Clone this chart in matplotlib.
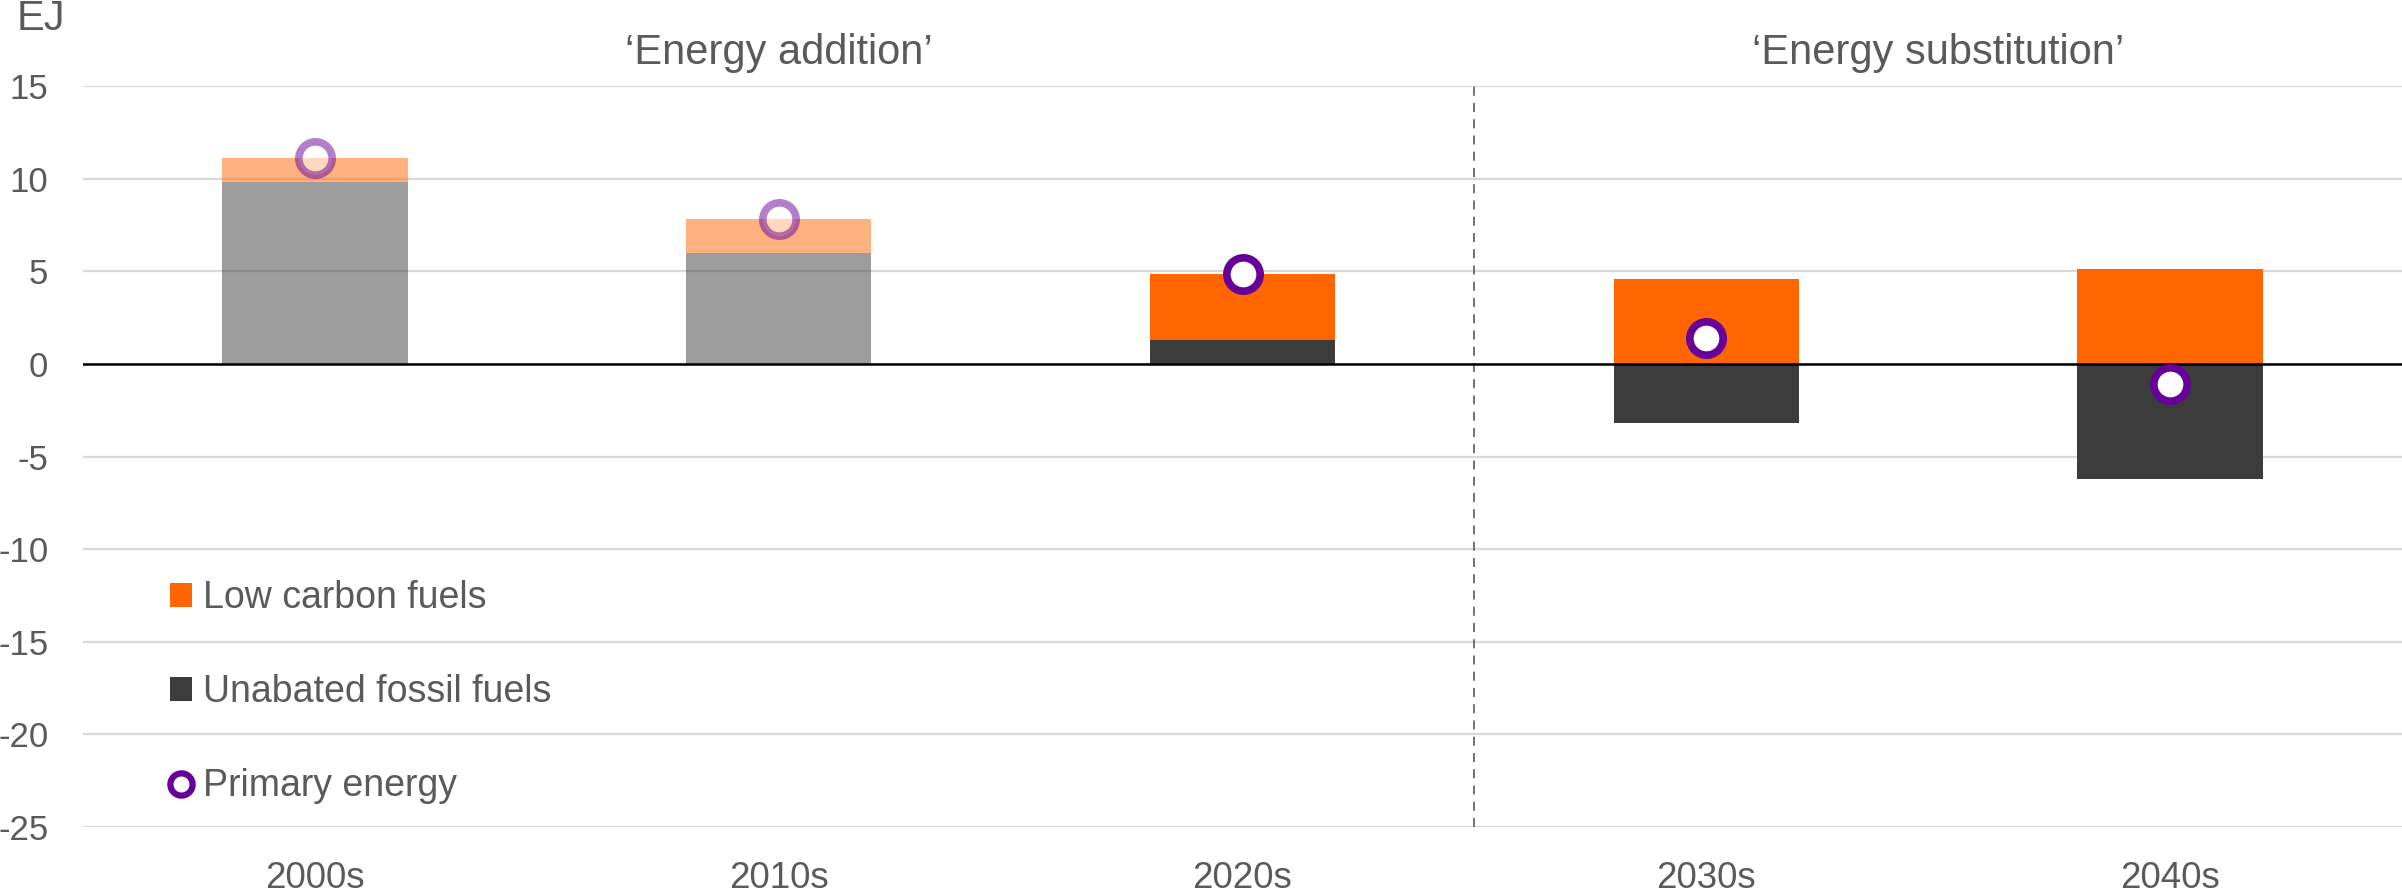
import matplotlib
matplotlib.use('Agg')
import matplotlib.pyplot as plt
from matplotlib.patches import Patch
from matplotlib.lines import Line2D
import numpy as np

# ---------------- data ----------------
decades = ['2000s', '2010s', '2020s', '2030s', '2040s']
low_carbon = [1.3, 1.8, 3.55, 4.6, 5.1]
unabated_fossil = [9.8, 6.0, 1.3, -3.2, -6.2]
primary_energy = [11.1, 7.8, 4.85, 1.4, -1.1]
historical = [True, True, False, False, False]
phase_labels = ['\u2018Energy addition\u2019', '\u2018Energy substitution\u2019']
phase_centers = [1, 3.5]
y_ticks = [15, 10, 5, 0, -5, -10, -15, -20, -25]
series_names = ['Low carbon fuels', 'Unabated fossil fuels', 'Primary energy']

# ---------------- style ----------------
ORANGE = '#FF6600'
DARK = '#3C3C3C'
PURPLE = '#660099'
TXT = '#5A5A5A'
GRID = '#D9D9D9'

plt.rcParams['font.family'] = ['Liberation Sans', 'DejaVu Sans']
plt.rcParams['axes.unicode_minus'] = False

W, H = 2402, 893
fig = plt.figure(figsize=(W / 100, H / 100), dpi=100)
ax = fig.add_axes([83 / W, 66 / H, 1 - 83 / W, (827 - 86) / H])

x = np.arange(len(decades))
width = 0.4
for i in range(len(decades)):
    a = 0.5 if historical[i] else 1.0
    ax.bar(x[i], unabated_fossil[i], width, color=DARK, alpha=a, linewidth=0, zorder=2)
    ax.bar(x[i], low_carbon[i], width, bottom=max(unabated_fossil[i], 0),
           color=ORANGE, alpha=a, linewidth=0, zorder=2)
    ax.plot(x[i], primary_energy[i], 'o', ms=24, mfc='white', mec=PURPLE, mew=5.5,
            alpha=a, zorder=5)

ax.axhline(0, color='black', lw=1.8, zorder=3)
ax.plot([2.5, 2.5], [y_ticks[-1], y_ticks[0]], color='#666666', lw=1.3,
        ls=(0, (5, 4)), zorder=1)

ax.set_xlim(-0.5, len(decades) - 0.5)
ax.set_ylim(min(y_ticks), max(y_ticks))
ax.set_yticks(y_ticks)
ax.set_xticks(x)
ax.set_xticklabels(decades)
ax.yaxis.grid(True, color=GRID, lw=1.6)
ax.set_axisbelow(True)
for s in ax.spines.values():
    s.set_visible(False)
ax.tick_params(axis='y', length=0, pad=25, labelsize=25, labelcolor=TXT)
ax.tick_params(axis='x', length=0, pad=24.5, labelsize=26.5, labelcolor=TXT)

for lab, cx in zip(phase_labels, phase_centers):
    ax.text(cx, 16.8, lab, ha='center', va='center', fontsize=30, color=TXT, clip_on=False)

fig.text(17 / W, 1 - 19 / H, 'EJ', ha='left', va='center', fontsize=30, color=TXT)

handles = [
    Patch(facecolor=ORANGE, edgecolor='none'),
    Patch(facecolor=DARK, edgecolor='none'),
    Line2D([], [], marker='o', ls='', ms=16, mfc='white', mec=PURPLE, mew=4.5),
]
leg = ax.legend(handles, series_names, loc='upper left', bbox_to_anchor=(0.0375, 0.333),
                frameon=False, fontsize=27, handlelength=0.59, handleheight=0.59,
                handletextpad=0.29, labelspacing=1.55, borderaxespad=0, borderpad=0)
for t in leg.get_texts():
    t.set_color(TXT)

fig.savefig('out.png', dpi=100)
